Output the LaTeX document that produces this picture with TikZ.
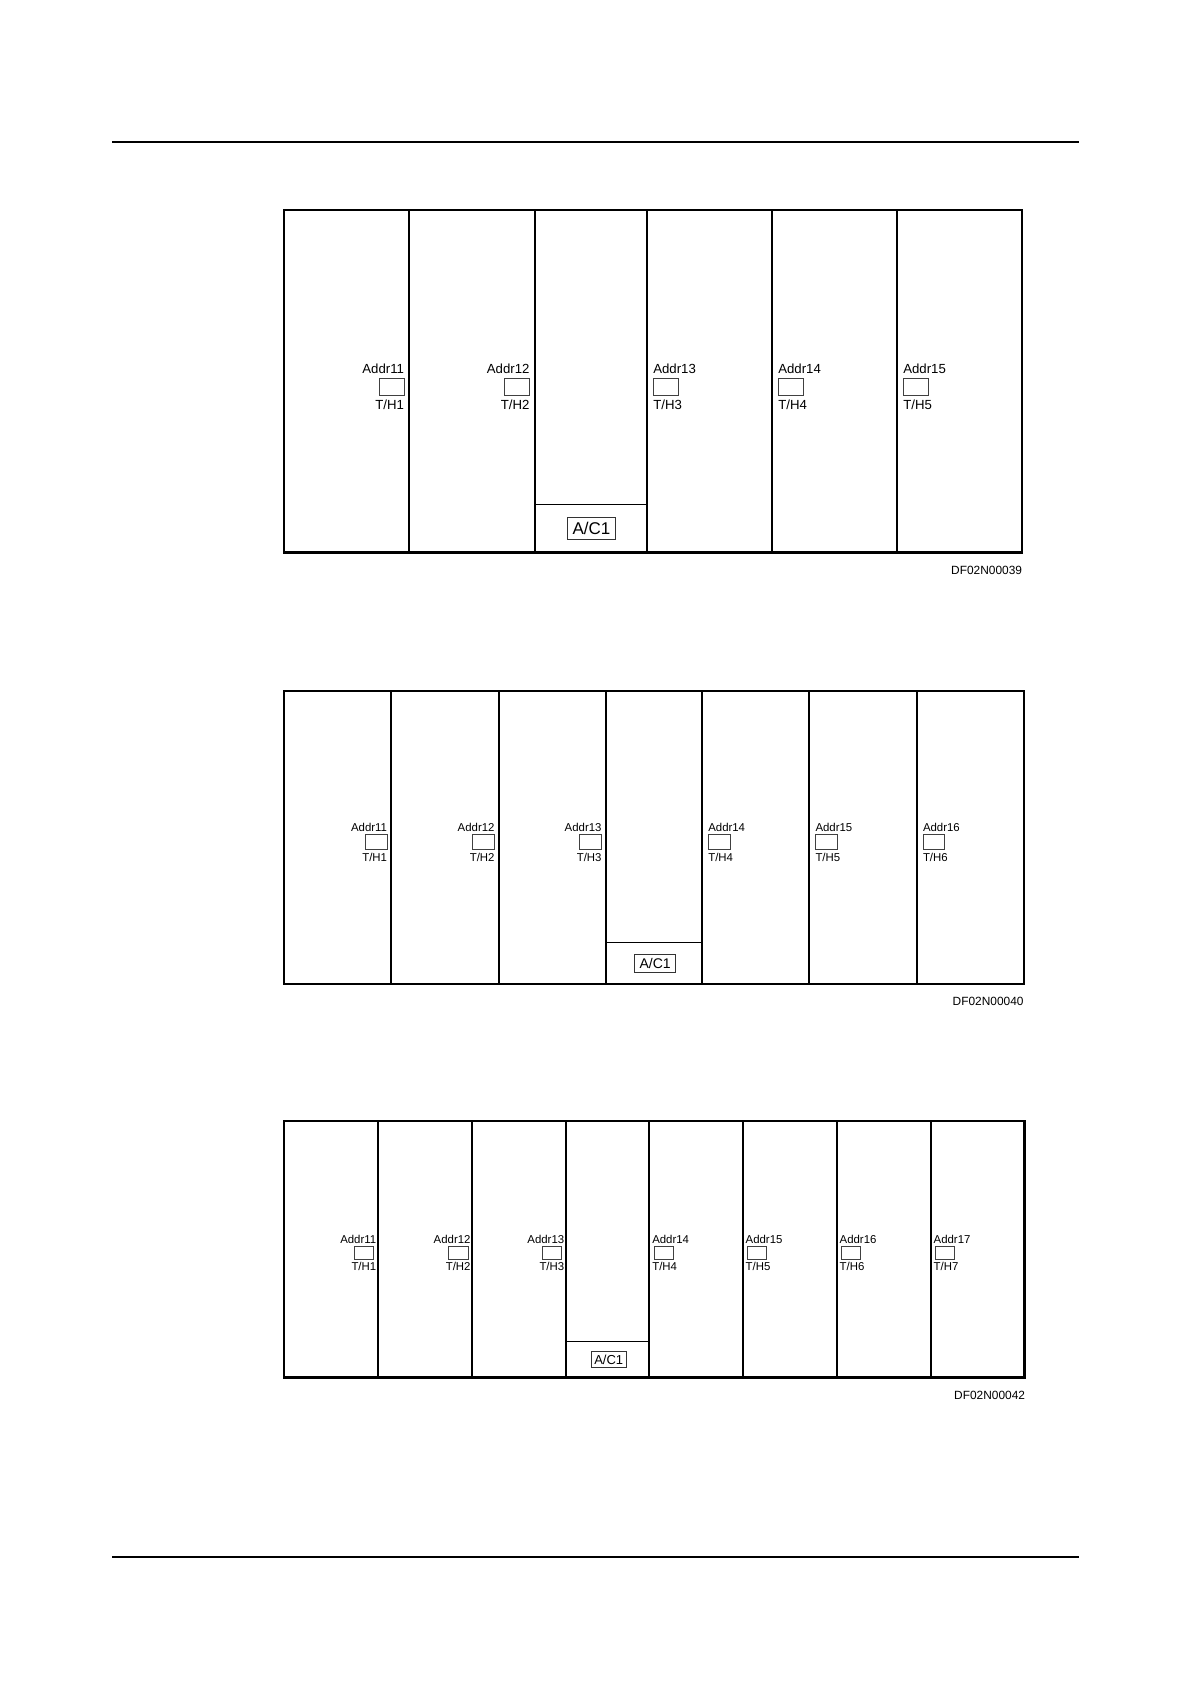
\documentclass[tikz,border=0pt]{standalone}
\usepackage{fontspec}
\setmainfont{Liberation Sans}
\begin{document}
\begin{tikzpicture}[x=1pt,y=-1pt,
  outer/.style={line width=2.6pt,line join=miter},
  divider/.style={line width=1.9pt},
  thin/.style={line width=0.9pt},
  rule/.style={line width=1.2pt},
  lab/.style={inner sep=0pt,outer sep=0pt,text=black},
  labA/.style={lab,font=\fontsize{13.2}{14}\selectfont},
  labB/.style={lab,font=\fontsize{11.4}{12}\selectfont},
  labC/.style={lab,font=\fontsize{11.4}{12}\selectfont},
  tbox/.style={draw=black!75,line width=0.8pt,inner sep=0pt,outer sep=0pt},
  boxA/.style={tbox,minimum width=25pt,minimum height=16.7pt},
  boxB/.style={tbox,minimum width=21.7pt,minimum height=15pt},
  boxC/.style={tbox,minimum width=19.4pt,minimum height=12.6pt},
  acbox/.style={draw=black!80,line width=0.8pt,inner sep=1.5pt,outer sep=0pt},
  dflab/.style={lab,font=\fontsize{11.9}{13}\selectfont,anchor=base east}
]
\useasboundingbox (0,0) rectangle (1191,1684);
\fill[white] (0,0) rectangle (1191,1684);

% header and footer rules
\coordinate (hl) at (112,142);
\coordinate (hr) at (1079,142);
\coordinate (fl) at (112,1557);
\coordinate (fr) at (1079,1557);
\draw[rule] (hl) -- (hr);
\draw[rule] (fl) -- (fr);

% ---------------- Panel 1 ----------------
\foreach \x in {409.3,535,646.7,771.7,896.7}
  \draw[divider] (\x,210) -- (\x,552.3);
\draw[thin] (535,504.3) -- (646.7,504.3);
\draw[outer] (284,210) rectangle (1022,552.3);
\node[acbox,font=\fontsize{17}{18}\selectfont,minimum width=48pt,minimum height=21.6pt] (p1ac) at (591.5,528.5) {A/C1};
\foreach \n/\x/\a in {1/404/east,2/529.5/east,3/653.3/west,4/778.3/west,5/903.3/west}{
  \node[labA,anchor=base \a] (p1a\n) at (\x,373.3) {Addr1\n};
  \node[boxA,anchor=north \a] (p1b\n) at (\x,378.3) {};
  \node[labA,anchor=base \a] (p1t\n) at (\x,409.3) {T/H\n};
}
\node[dflab] (p1df) at (1022,574) {DF02N00039};

% ---------------- Panel 2 ----------------
\foreach \x in {391.3,499,606,702.3,809,916.7}
  \draw[divider] (\x,691) -- (\x,984);
\draw[thin] (606,942.7) -- (702.3,942.7);
\draw[outer] (284,691) rectangle (1024,984);
\node[acbox,font=\fontsize{14}{15}\selectfont,minimum width=41pt,minimum height=18.4pt] (p2ac) at (655.2,963.5) {A/C1};
\foreach \n/\x/\a in {1/387/east,2/494.5/east,3/601.5/east,4/708.3/west,5/815.5/west,6/923/west}{
  \node[labB,anchor=base \a] (p2a\n) at (\x,831) {Addr1\n};
  \node[boxB,anchor=north \a] (p2b\n) at (\x,834.3) {};
  \node[labB,anchor=base \a] (p2t\n) at (\x,861.7) {T/H\n};
}
\node[dflab] (p2df) at (1023.5,1005) {DF02N00040};

% ---------------- Panel 3 ----------------
\foreach \x in {377.7,472,565.7,649.3,742.7,836.7,930.7}
  \draw[divider] (\x,1121) -- (\x,1377.5);
\draw[thin] (565.7,1341) -- (649.3,1341);
\draw[outer] (284,1121) rectangle (1024.3,1377.5);
\node[acbox,font=\fontsize{13}{14}\selectfont,minimum width=35.4pt,minimum height=16pt] (p3ac) at (608.7,1359.8) {A/C1};
\foreach \n/\x/\bx/\a in {1/376.2/373.7/east,2/470.5/468/east,3/564.2/561.7/east,4/652.3/654/west,5/745.7/747.4/west,6/839.7/841.4/west,7/933.7/935.4/west}{
  \node[labC,anchor=base \a] (p3a\n) at (\x,1243.3) {Addr1\n};
  \node[boxC,anchor=north \a] (p3b\n) at (\bx,1246.7) {};
  \node[labC,anchor=base \a] (p3t\n) at (\x,1270) {T/H\n};
}
\node[dflab] (p3df) at (1025,1399) {DF02N00042};
\end{tikzpicture}
\end{document}
